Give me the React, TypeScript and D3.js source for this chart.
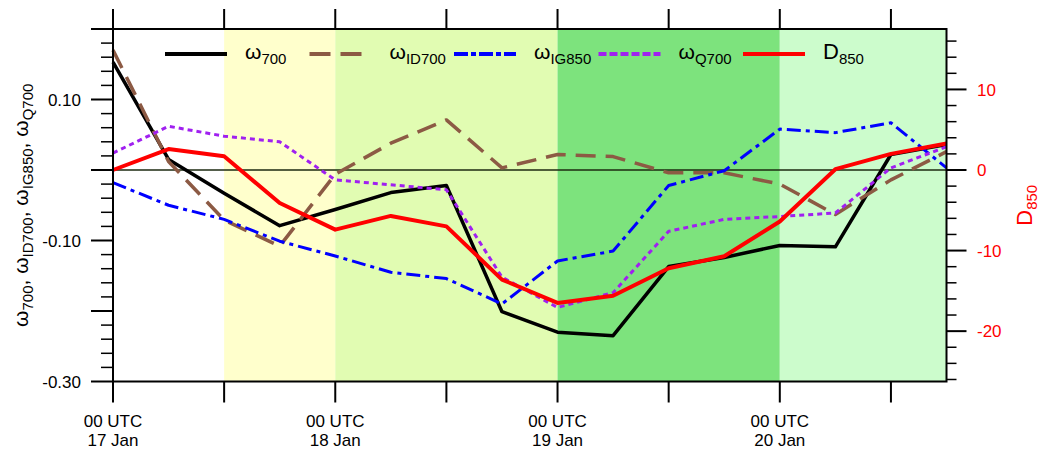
import React from 'react';
import * as d3 from 'd3';

// Forecast hours from 00 UTC 17 Jan, every 6 h
const hours = [0, 6, 12, 18, 24, 30, 36, 42, 48, 54, 60, 66, 72, 78, 84, 90];

// Vertical motion terms (left axis)
const omega700 = [0.153, 0.015, -0.033, -0.079, -0.056, -0.032, -0.022, -0.201, -0.230, -0.235, -0.137, -0.124, -0.107, -0.109, 0.022, 0.036];
const omegaID700 = [0.170, 0.012, -0.071, -0.108, -0.006, 0.038, 0.071, 0.003, 0.022, 0.019, -0.004, -0.004, -0.020, -0.063, -0.014, 0.026];
const omegaIG850 = [-0.018, -0.050, -0.070, -0.101, -0.122, -0.145, -0.154, -0.190, -0.129, -0.115, -0.022, -0.001, 0.058, 0.053, 0.067, 0.003];
const omegaQ700 = [0.024, 0.062, 0.048, 0.040, -0.014, -0.021, -0.028, -0.152, -0.195, -0.174, -0.087, -0.070, -0.066, -0.061, 0.003, 0.033];

// 850 hPa divergence (right axis)
const d850 = [0, 2.6, 1.7, -4.1, -7.4, -5.7, -7.0, -13.6, -16.5, -15.6, -12.2, -10.7, -6.4, 0.1, 2.0, 3.3];

// Shaded stages (hours)
const stageStart = [0, 12, 24, 48, 72];
const stageEnd = [12, 24, 48, 72, 90];
const stageColors = ['#ffffff', '#ffffcc', '#e1fcb2', '#7de37d', '#ccfccc'];

// Axis labels
const dayTickHours = [0, 24, 48, 72];
const dayLabels = ['17 Jan', '18 Jan', '19 Jan', '20 Jan'];

const FONT = "'Liberation Sans', Arial, Helvetica, sans-serif";

const W = 1040;
const H = 453;
const left = 113;
const right = 946.5;
const top = 29;
const bottom = 381.5;

type Series = {
  sym: string;
  sub: string;
  values: number[];
  color: string;
  dash: string;
  legendDash: string;
  width: number;
  axis: 'L' | 'R';
};

const series: Series[] = [
  { sym: 'ω', sub: '700', values: omega700, color: '#000000', dash: '', legendDash: '', width: 3.5, axis: 'L' },
  { sym: 'ω', sub: 'ID700', values: omegaID700, color: '#8c5a44', dash: '20,10', legendDash: '21,10', width: 3.5, axis: 'L' },
  { sym: 'ω', sub: 'IG850', values: omegaIG850, color: '#0000ff', dash: '14,5,4,5', legendDash: '14,3,5,3', width: 3, axis: 'L' },
  { sym: 'ω', sub: 'Q700', values: omegaQ700, color: '#a020f0', dash: '5,4', legendDash: '8,3', width: 3, axis: 'L' },
  { sym: 'D', sub: '850', values: d850, color: '#ff0000', dash: '', legendDash: '', width: 4, axis: 'R' },
];

export default function App() {
  const x = d3.scaleLinear().domain([0, 90]).range([left, right]);
  const yL = d3.scaleLinear().domain([-0.3, 0.2]).range([bottom, top]);
  const yR = d3.scaleLinear().domain([-26.25, 17.5]).range([bottom, top]);

  const pathFor = (s: Series) => {
    const y = s.axis === 'L' ? yL : yR;
    return d3
      .line<number>()
      .x((_, i) => x(hours[i]))
      .y((d) => y(d))(s.values) as string;
  };

  const leftMinor = d3.range(-15, 11).map((k) => k);
  const rightMinor = d3.range(-13, 9).map((k) => k * 2);
  const xTicks = d3.range(0, 85, 12);

  return (
    <svg
      width={W}
      height={H}
      style={{ position: 'absolute', left: 0, top: 0, background: '#ffffff' }}
      fontFamily={FONT}
    >
      {/* stage shading */}
      {stageStart.map((s, i) => (
        <rect
          key={'bg' + i}
          x={x(s)}
          y={top}
          width={x(stageEnd[i]) - x(s)}
          height={bottom - top}
          fill={stageColors[i]}
        />
      ))}

      {/* zero line */}
      <line x1={left} x2={right} y1={yL(0)} y2={yL(0)} stroke="#1c2a10" strokeWidth={1.6} />

      {/* series */}
      {series.map((s, i) => (
        <path
          key={'s' + i}
          d={pathFor(s)}
          fill="none"
          stroke={s.color}
          strokeWidth={s.width}
          strokeDasharray={s.dash || undefined}
          strokeLinejoin="round"
        />
      ))}

      {/* frame */}
      <rect x={left} y={top} width={right - left} height={bottom - top} fill="none" stroke="#000" strokeWidth={2} />

      {/* left ticks */}
      {leftMinor.map((k) => {
        const major = k % 5 === 0;
        const yy = yL(k * 0.02);
        return (
          <line key={'lt' + k} x1={left} x2={left - (major ? 22 : 12)} y1={yy} y2={yy} stroke="#000" strokeWidth={major ? 2 : 1.5} />
        );
      })}
      {[-15, -5, 5].map((k) => (
        <text key={'ll' + k} x={81} y={yL(k * 0.02)} dy="0.36em" textAnchor="end" fontSize={17} fill="#000">
          {(k * 0.02).toFixed(2)}
        </text>
      ))}

      {/* right ticks */}
      {rightMinor.map((v) => {
        const major = v % 10 === 0;
        const yy = yR(v);
        return (
          <line key={'rt' + v} x1={right} x2={right + (major ? 20 : 10)} y1={yy} y2={yy} stroke="#000" strokeWidth={major ? 2 : 1.5} />
        );
      })}
      {[-20, -10, 0, 10].map((v) => (
        <text key={'rl' + v} x={977} y={yR(v)} dy="0.36em" textAnchor="start" fontSize={17} fill="#ff0000">
          {v.toFixed(0)}
        </text>
      ))}

      {/* x ticks, top and bottom */}
      {xTicks.map((h) => (
        <g key={'xt' + h}>
          <line x1={x(h)} x2={x(h)} y1={bottom} y2={bottom + 21} stroke="#000" strokeWidth={2} />
          <line x1={x(h)} x2={x(h)} y1={top} y2={top - 20} stroke="#000" strokeWidth={2} />
        </g>
      ))}
      {dayTickHours.map((h, i) => (
        <text key={'xl' + h} x={x(h)} textAnchor="middle" fontSize={17} fill="#000">
          <tspan x={x(h)} y={427}>00 UTC</tspan>
          <tspan x={x(h)} y={446}>{dayLabels[i]}</tspan>
        </text>
      ))}

      {/* left axis title */}
      <text transform={`translate(28, ${(top + bottom) / 2}) rotate(-90)`} textAnchor="middle" fontSize={21} fill="#000">
        {series
          .filter((s) => s.axis === 'L')
          .map((s, i, arr) => (
            <React.Fragment key={'lt' + i}>
              <tspan>{s.sym}</tspan>
              <tspan fontSize={15} dy={5}>{s.sub}</tspan>
              <tspan dy={-5}>{i < arr.length - 1 ? ', ' : ''}</tspan>
            </React.Fragment>
          ))}
      </text>

      {/* right axis title */}
      <text transform={`translate(1032, ${(top + bottom) / 2}) rotate(-90)`} textAnchor="middle" fontSize={22} fill="#ff0000">
        <tspan>D</tspan>
        <tspan fontSize={15} dy={5}>850</tspan>
      </text>

      {/* legend */}
      {series.map((s, i) => {
        const lx = 165 + i * 144.5;
        const ly = 54;
        return (
          <g key={'lg' + i}>
            <line
              x1={lx}
              x2={lx + 62}
              y1={ly}
              y2={ly}
              stroke={s.color}
              strokeWidth={4}
              strokeDasharray={s.legendDash || undefined}
            />
            <text x={lx + 80} y={ly + 5} fontSize={s.sym === 'D' ? 22 : 21} fill="#000">
              <tspan>{s.sym}</tspan>
              <tspan fontSize={15} dy={5}>{s.sub}</tspan>
            </text>
          </g>
        );
      })}
    </svg>
  );
}
